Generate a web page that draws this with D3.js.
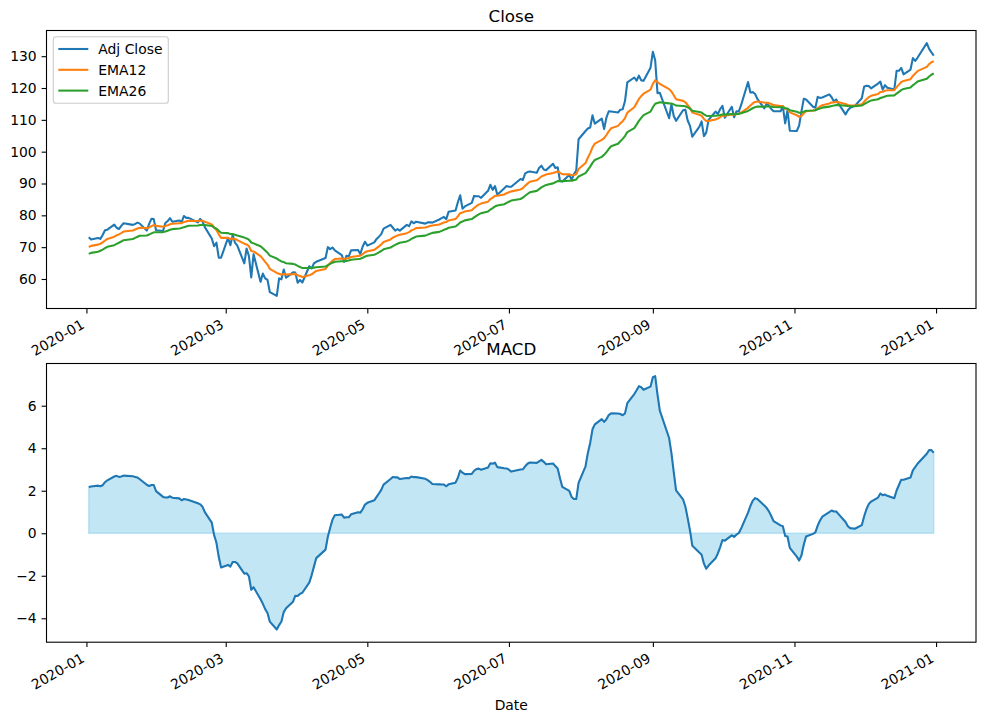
<!DOCTYPE html>
<html>
<head>
<meta charset="utf-8">
<script src="https://cdn.jsdelivr.net/npm/d3@7"></script>
<style>
body { margin: 0; background: #fff; }
svg { display: block; font-family: "DejaVu Sans", sans-serif; }
</style>
</head>
<body>
<div id="chart"></div>
<script>
// trading days of 2020 (MM-DD)
var tradeDays = [
  "01-02","01-03","01-06","01-07","01-08","01-09","01-10","01-13","01-14","01-15","01-16","01-17","01-21","01-22","01-23","01-24","01-27","01-28","01-29","01-30","01-31",
  "02-03","02-04","02-05","02-06","02-07","02-10","02-11","02-12","02-13","02-14","02-18","02-19","02-20","02-21","02-24","02-25","02-26","02-27","02-28",
  "03-02","03-03","03-04","03-05","03-06","03-09","03-10","03-11","03-12","03-13","03-16","03-17","03-18","03-19","03-20","03-23","03-24","03-25","03-26","03-27","03-30","03-31",
  "04-01","04-02","04-03","04-06","04-07","04-08","04-09","04-13","04-14","04-15","04-16","04-17","04-20","04-21","04-22","04-23","04-24","04-27","04-28","04-29","04-30",
  "05-01","05-04","05-05","05-06","05-07","05-08","05-11","05-12","05-13","05-14","05-15","05-18","05-19","05-20","05-21","05-22","05-26","05-27","05-28","05-29",
  "06-01","06-02","06-03","06-04","06-05","06-08","06-09","06-10","06-11","06-12","06-15","06-16","06-17","06-18","06-19","06-22","06-23","06-24","06-25","06-26","06-29","06-30",
  "07-01","07-02","07-06","07-07","07-08","07-09","07-10","07-13","07-14","07-15","07-16","07-17","07-20","07-21","07-22","07-23","07-24","07-27","07-28","07-29","07-30","07-31",
  "08-03","08-04","08-05","08-06","08-07","08-10","08-11","08-12","08-13","08-14","08-17","08-18","08-19","08-20","08-21","08-24","08-25","08-26","08-27","08-28","08-31",
  "09-01","09-02","09-03","09-04","09-08","09-09","09-10","09-11","09-14","09-15","09-16","09-17","09-18","09-21","09-22","09-23","09-24","09-25","09-28","09-29","09-30",
  "10-01","10-02","10-05","10-06","10-07","10-08","10-09","10-12","10-13","10-14","10-15","10-16","10-19","10-20","10-21","10-22","10-23","10-26","10-27","10-28","10-29","10-30",
  "11-02","11-03","11-04","11-05","11-06","11-09","11-10","11-11","11-12","11-13","11-16","11-17","11-18","11-19","11-20","11-23","11-24","11-25","11-27","11-30",
  "12-01","12-02","12-03","12-04","12-07","12-08","12-09","12-10","12-11","12-14","12-15","12-16","12-17","12-18","12-21","12-22","12-23","12-24","12-28","12-29","12-30","12-31"
];

var adjClose = [
  73.1,72.4,72.9,72.6,73.8,75.3,75.5,77.1,76.1,75.7,76.7,77.5,77.0,77.3,77.7,77.4,75.2,77.3,78.9,78.8,75.3,
  75.1,77.6,78.2,79.1,78.0,78.4,77.9,79.8,79.2,79.2,77.8,78.9,78.1,76.3,72.7,70.3,71.4,66.7,66.7,
  72.9,70.6,73.8,71.4,70.5,64.9,69.6,67.2,60.5,67.8,59.1,61.7,60.2,59.7,55.9,54.7,60.2,59.9,63.0,60.4,62.1,62.0,
  58.8,59.7,58.9,64.0,63.3,64.9,65.4,66.6,70.0,69.4,69.9,69.0,67.5,65.4,67.3,67.1,69.0,69.1,67.9,70.2,71.7,
  70.5,71.5,72.6,73.3,74.1,75.8,77.0,76.1,75.2,75.7,75.2,77.0,76.6,78.1,77.5,78.0,77.4,77.8,77.8,77.7,
  78.7,79.1,79.5,78.8,81.1,81.5,84.1,86.3,82.1,82.8,83.9,86.1,86.0,86.0,85.5,87.7,89.6,88.0,89.2,86.5,88.5,89.2,
  89.0,89.0,91.4,91.1,93.2,93.6,93.8,93.4,94.9,95.6,94.4,94.2,96.2,94.9,95.1,90.8,90.6,92.7,91.2,92.9,94.1,103.9,
  106.5,107.3,107.6,111.4,108.8,110.4,107.1,110.7,112.7,112.6,112.3,113.2,113.3,115.9,121.8,123.3,122.3,123.9,122.4,122.3,126.4,
  131.4,128.7,118.4,118.5,110.5,114.9,111.2,109.7,113.0,113.2,109.8,108.1,104.7,107.8,109.5,104.9,106.0,110.0,112.6,111.8,113.4,
  114.4,110.7,114.1,110.8,112.7,112.6,114.6,121.9,118.6,118.7,118.2,116.6,113.6,115.1,114.5,113.4,112.7,112.7,114.2,108.9,113.0,106.6,
  106.5,108.2,112.6,116.6,116.4,114.1,113.8,117.2,116.9,117.0,118.0,117.1,115.8,116.4,115.1,111.7,113.0,113.8,114.4,116.8,
  120.4,120.7,120.6,119.9,121.4,122.0,119.5,120.9,120.1,119.5,125.4,125.4,126.3,124.3,125.8,129.4,128.5,129.5,134.1,132.3,131.2,130.2
];

var ema12 = [
  70.05,70.41,70.80,71.07,71.49,72.08,72.60,73.30,73.73,74.03,74.44,74.91,75.23,75.55,75.88,76.11,75.97,76.18,76.59,76.93,76.68,
  76.44,76.62,76.86,77.21,77.33,77.50,77.56,77.90,78.10,78.27,78.20,78.31,78.28,77.97,77.16,76.11,75.38,74.05,72.92,
  72.92,72.56,72.75,72.55,72.23,71.10,70.87,70.31,68.80,68.65,67.18,66.34,65.39,64.52,63.19,61.89,61.63,61.36,61.61,61.43,61.53,61.60,
  61.17,60.94,60.63,61.15,61.48,62.00,62.53,63.15,64.21,65.00,65.76,66.26,66.45,66.29,66.44,66.54,66.92,67.25,67.35,67.79,68.39,
  68.72,69.15,69.68,70.24,70.83,71.60,72.43,72.99,73.33,73.70,73.93,74.40,74.74,75.26,75.60,75.97,76.19,76.44,76.65,76.81,
  77.10,77.41,77.73,77.90,78.39,78.87,79.67,80.69,80.91,81.20,81.61,82.30,82.87,83.35,83.68,84.30,85.12,85.56,86.12,86.18,86.54,86.95,
  87.27,87.53,88.13,88.58,89.29,89.96,90.55,90.99,91.59,92.21,92.54,92.80,93.32,93.56,93.80,93.34,92.92,92.88,92.62,92.67,92.89,94.58,
  96.42,98.09,99.55,101.38,102.52,103.73,104.25,105.24,106.39,107.34,108.11,108.89,109.57,110.54,112.27,113.97,115.25,116.58,117.48,118.22,119.48,
  121.31,122.45,121.83,121.32,119.65,118.92,117.73,116.50,115.96,115.54,114.66,113.65,112.27,111.58,111.26,110.29,109.63,109.68,110.13,110.39,110.85,
  111.40,111.29,111.72,111.58,111.75,111.88,112.30,113.78,114.52,115.16,115.63,115.78,115.44,115.39,115.25,114.97,114.62,114.32,114.30,113.47,113.40,112.35,
  111.45,110.95,111.21,112.04,112.71,112.92,113.06,113.69,114.19,114.62,115.14,115.44,115.50,115.64,115.55,114.96,114.66,114.53,114.51,114.86,
  115.71,116.48,117.11,117.54,118.13,118.73,118.85,119.16,119.31,119.34,120.27,121.06,121.87,122.24,122.79,123.81,124.53,125.29,126.65,127.52,128.08,128.41
];

var ema26 = [
  67.88,68.21,68.56,68.86,69.23,69.68,70.11,70.63,71.03,71.38,71.77,72.20,72.55,72.90,73.26,73.57,73.69,73.96,74.32,74.66,74.70,
  74.73,74.94,75.18,75.47,75.66,75.86,76.01,76.29,76.51,76.71,76.79,76.95,77.03,76.98,76.66,76.19,75.83,75.16,74.53,
  74.41,74.13,74.10,73.90,73.65,73.00,72.75,72.34,71.46,71.19,70.29,69.66,68.96,68.27,67.35,66.42,65.95,65.51,65.32,64.96,64.75,64.54,
  64.12,63.79,63.43,63.47,63.46,63.57,63.70,63.92,64.37,64.74,65.12,65.41,65.57,65.56,65.69,65.79,66.03,66.26,66.38,66.66,67.04,
  67.29,67.60,67.97,68.37,68.79,69.31,69.88,70.34,70.70,71.07,71.38,71.80,72.15,72.59,72.96,73.33,73.63,73.94,74.23,74.49,
  74.80,75.12,75.44,75.69,76.09,76.49,77.06,77.74,78.06,78.42,78.82,79.36,79.85,80.31,80.69,81.21,81.83,82.29,82.80,83.07,83.48,83.90,
  84.28,84.63,85.13,85.57,86.14,86.69,87.22,87.68,88.21,88.76,89.18,89.55,90.04,90.40,90.75,90.75,90.74,90.89,90.91,91.06,91.28,92.21,
  93.27,94.31,95.30,96.49,97.40,98.36,99.01,99.88,100.83,101.70,102.48,103.28,104.02,104.90,106.15,107.42,108.52,109.66,110.61,111.47,112.58,
  113.97,115.06,115.31,115.55,115.17,115.15,114.86,114.48,114.37,114.28,113.95,113.52,112.86,112.49,112.27,111.72,111.30,111.20,111.31,111.34,111.50,
  111.72,111.64,111.82,111.75,111.82,111.88,112.08,112.81,113.24,113.64,113.98,114.17,114.13,114.20,114.22,114.16,114.05,113.95,113.97,113.60,113.55,113.04,
  112.55,112.23,112.26,112.58,112.86,112.95,113.02,113.33,113.59,113.84,114.15,114.37,114.48,114.62,114.65,114.43,114.33,114.29,114.30,114.48,
  114.92,115.35,115.74,116.05,116.45,116.86,117.06,117.34,117.55,117.69,118.26,118.79,119.35,119.72,120.17,120.85,121.42,122.02,122.91,123.61,124.17,124.62
];

var macd = [
  2.17,2.20,2.24,2.21,2.26,2.40,2.49,2.67,2.70,2.65,2.67,2.71,2.68,2.65,2.62,2.54,2.28,2.22,2.27,2.27,1.98,
  1.71,1.68,1.68,1.74,1.67,1.64,1.55,1.61,1.59,1.56,1.41,1.36,1.25,0.99,0.50,-0.08,-0.45,-1.11,-1.61,
  -1.49,-1.57,-1.35,-1.35,-1.42,-1.90,-1.88,-2.03,-2.66,-2.54,-3.11,-3.32,-3.57,-3.75,-4.16,-4.53,-4.32,-4.15,-3.71,-3.53,-3.22,-2.94,
  -2.95,-2.85,-2.80,-2.32,-1.98,-1.57,-1.17,-0.77,-0.16,0.26,0.64,0.85,0.88,0.73,0.75,0.75,0.89,0.99,0.97,1.13,1.35,
  1.43,1.55,1.71,1.87,2.04,2.29,2.55,2.65,2.63,2.63,2.55,2.60,2.59,2.67,2.64,2.64,2.56,2.50,2.42,2.32,
  2.30,2.29,2.29,2.21,2.30,2.38,2.61,2.95,2.85,2.78,2.79,2.94,3.02,3.04,2.99,3.09,3.29,3.27,3.32,3.11,3.06,3.05,
  2.99,2.90,3.00,3.01,3.15,3.27,3.33,3.31,3.38,3.45,3.36,3.25,3.28,3.16,3.05,2.59,2.18,1.99,1.71,1.61,1.61,2.37,
  3.15,3.78,4.25,4.89,5.12,5.37,5.24,5.36,5.56,5.64,5.63,5.61,5.55,5.64,6.12,6.55,6.73,6.92,6.87,6.75,6.90,
  7.34,7.39,6.52,5.77,4.48,3.77,2.87,2.02,1.59,1.26,0.71,0.13,-0.59,-0.91,-1.01,-1.43,-1.67,-1.52,-1.18,-0.95,-0.65,
  -0.32,-0.35,-0.10,-0.17,-0.07,0.00,0.22,0.97,1.28,1.52,1.65,1.61,1.31,1.19,1.03,0.81,0.57,0.37,0.33,-0.13,-0.15,-0.69,
  -1.10,-1.28,-1.05,-0.54,-0.15,-0.03,0.04,0.36,0.60,0.78,0.99,1.07,1.02,1.02,0.90,0.53,0.33,0.24,0.21,0.38,
  0.79,1.13,1.37,1.49,1.68,1.87,1.79,1.82,1.76,1.65,2.01,2.27,2.52,2.52,2.62,2.96,3.11,3.27,3.74,3.91,3.91,3.79
];

var xTickLabels = ["2020-01","2020-03","2020-05","2020-07","2020-09","2020-11","2021-01"];
var closeTicks = [60, 70, 80, 90, 100, 110, 120, 130];
var macdTicks = [-4, -2, 0, 2, 4, 6];
var seriesNames = ["Adj Close", "EMA12", "EMA26"];
var seriesColors = ["#1f77b4", "#ff7f0e", "#2ca02c"];

var width = 986, height = 722;
var fontSize = 13.9;

var svg = d3.select("#chart")
            .append("svg")
            .attr("width", width)
            .attr("height", height);

var parseDay = d3.timeParse("%Y-%m-%d");
var parseMonth = d3.timeParse("%Y-%m");
var dates = tradeDays.map(function (d) { return parseDay("2020-" + d); });

// matplotlib style 5% margins
function withMargin(lo, hi) {
  var m = (hi - lo) * 0.05;
  return [lo - m, hi + m];
}

var left = 46.5, right = 976;
var t0 = +dates[0], t1 = +dates[dates.length - 1];
var tPad = (t1 - t0) * 0.05;
var x = d3.scaleTime()
          .domain([new Date(t0 - tPad), new Date(t1 + tPad)])
          .range([left, right]);

function drawFrame(top, bottom, y, yTicks, title) {
  var g = svg.append("g");

  var xAxis = d3.axisBottom(x)
                .tickValues(xTickLabels.map(parseMonth))
                .tickFormat(d3.timeFormat("%Y-%m"))
                .tickSize(4.9)
                .tickPadding(0);

  var xg = g.append("g")
            .attr("transform", "translate(0," + bottom + ")")
            .call(xAxis);
  xg.select(".domain").remove();
  xg.selectAll("line").attr("stroke", "#000").attr("stroke-width", 1.1);
  xg.selectAll("text")
    .attr("x", 0)
    .attr("y", 0)
    .attr("dy", 0)
    .attr("text-anchor", "end")
    .attr("transform", "translate(-1.6,18.8) rotate(-30)")
    .attr("fill", "#000")
    .style("font-size", fontSize + "px")
    .style("font-family", "DejaVu Sans");

  var yAxis = d3.axisLeft(y)
                .tickValues(yTicks)
                .tickSize(4.9)
                .tickPadding(4.9);

  var yg = g.append("g")
            .attr("transform", "translate(" + left + ",0)")
            .call(yAxis);
  yg.select(".domain").remove();
  yg.selectAll("line").attr("stroke", "#000").attr("stroke-width", 1.1);
  yg.selectAll("text")
    .attr("fill", "#000")
    .style("font-size", fontSize + "px")
    .style("font-family", "DejaVu Sans");

  g.append("rect")
   .attr("x", left)
   .attr("y", top)
   .attr("width", right - left)
   .attr("height", bottom - top)
   .attr("fill", "none")
   .attr("stroke", "#000")
   .attr("stroke-width", 1.1);

  g.append("text")
   .attr("x", (left + right) / 2)
   .attr("y", top - 8.3)
   .attr("text-anchor", "middle")
   .style("font-size", "16.7px")
   .text(title);

  return g;
}

// ---------- top: Close ----------
var top1 = 30.5, bottom1 = 308.5;
var yClose = d3.scaleLinear()
               .domain(withMargin(d3.min(adjClose), d3.max(adjClose)))
               .range([bottom1, top1]);

var series = [adjClose, ema12, ema26];

var lineClose = d3.line()
                  .x(function (d, i) { return x(dates[i]); })
                  .y(function (d) { return yClose(d); });

svg.append("g").selectAll("path")
   .data(series)
   .enter()
   .append("path")
   .attr("d", lineClose)
   .attr("fill", "none")
   .attr("stroke", function (d, i) { return seriesColors[i]; })
   .attr("stroke-width", 2.08)
   .attr("stroke-linejoin", "round");

drawFrame(top1, bottom1, yClose, closeTicks, "Close");

// legend
var legend = svg.append("g");
legend.append("rect")
      .attr("x", 53.3)
      .attr("y", 36.7)
      .attr("width", 115)
      .attr("height", 66.6)
      .attr("rx", 2.8)
      .attr("fill", "#fff")
      .attr("fill-opacity", 0.8)
      .attr("stroke", "#cccccc")
      .attr("stroke-width", 1.1);

var rows = legend.selectAll("g.row")
                 .data(seriesNames)
                 .enter()
                 .append("g")
                 .attr("class", "row")
                 .attr("transform", function (d, i) { return "translate(0," + (49 + i * 20.8) + ")"; });
rows.append("line")
    .attr("x1", 58.3)
    .attr("x2", 88.3)
    .attr("y1", 0)
    .attr("y2", 0)
    .attr("stroke", function (d, i) { return seriesColors[i]; })
    .attr("stroke-width", 2.08);
rows.append("text")
    .attr("x", 98.3)
    .attr("y", 5)
    .style("font-size", fontSize + "px")
    .text(function (d) { return d; });

// ---------- bottom: MACD ----------
var top2 = 363.5, bottom2 = 642.2;
var yMacd = d3.scaleLinear()
              .domain(withMargin(d3.min(macd), d3.max(macd)))
              .range([bottom2, top2]);

var areaMacd = d3.area()
                 .x(function (d, i) { return x(dates[i]); })
                 .y0(yMacd(0))
                 .y1(function (d) { return yMacd(d); });

svg.append("path")
   .datum(macd)
   .attr("d", areaMacd)
   .attr("fill", "#87ceeb")
   .attr("fill-opacity", 0.5)
   .attr("stroke", "#87ceeb")
   .attr("stroke-opacity", 0.5)
   .attr("stroke-width", 1.4);

var lineMacd = d3.line()
                 .x(function (d, i) { return x(dates[i]); })
                 .y(function (d) { return yMacd(d); });

svg.append("path")
   .datum(macd)
   .attr("d", lineMacd)
   .attr("fill", "none")
   .attr("stroke", "#1f77b4")
   .attr("stroke-width", 2.08)
   .attr("stroke-linejoin", "round");

drawFrame(top2, bottom2, yMacd, macdTicks, "MACD");

svg.append("text")
   .attr("x", (left + right) / 2)
   .attr("y", 710)
   .attr("text-anchor", "middle")
   .style("font-size", fontSize + "px")
   .text("Date");
</script>
</body>
</html>
